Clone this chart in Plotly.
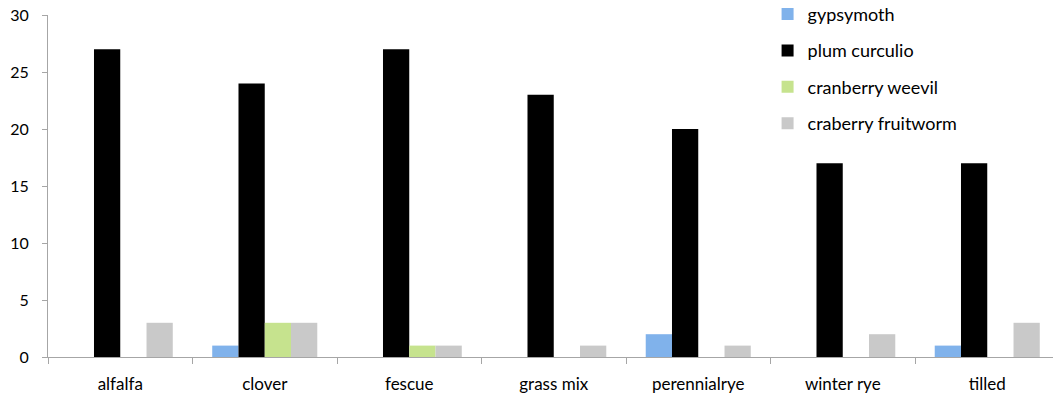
import plotly.graph_objects as go

categories = ["alfalfa", "clover", "fescue", "grass mix", "perennialrye", "winter rye", "tilled"]
gypsymoth = [0, 1, 0, 0, 2, 0, 1]
plum_curculio = [27, 24, 27, 23, 20, 17, 17]
cranberry_weevil = [0, 3, 1, 0, 0, 0, 0]
craberry_fruitworm = [3, 3, 1, 1, 1, 2, 3]
y_ticks = [0, 5, 10, 15, 20, 25, 30]

series = [
    ("gypsymoth", gypsymoth, "#80B2EB"),
    ("plum curculio", plum_curculio, "#000000"),
    ("cranberry weevil", cranberry_weevil, "#C6E38E"),
    ("craberry fruitworm", craberry_fruitworm, "#C9C9C9"),
]

fig = go.Figure()
for i, (name, vals, col) in enumerate(series):
    fig.add_trace(go.Bar(
        x=categories, y=vals, name=name, legendgroup=f"g{i}",
        marker=dict(color=col, line=dict(width=0)),
    ))

font_family = "Lato, 'Open Sans', sans-serif"
fig.update_layout(
    width=1053, height=402,
    margin=dict(l=48, r=0, t=15, b=45, autoexpand=False),
    paper_bgcolor="white", plot_bgcolor="white",
    barmode="group", bargap=0.273, bargroupgap=0,
    font=dict(family=font_family, size=14, color="#000000"),
    showlegend=True,
    legend=dict(
        x=0.716, y=1.056, xanchor="left", yanchor="top",
        traceorder="grouped", tracegroupgap=10,
        font=dict(size=18, color="#000000"),
        bgcolor="rgba(0,0,0,0)", itemwidth=30,
    ),
    xaxis=dict(
        type="category",
        range=[-0.5, 6.455],
        showgrid=False, zeroline=False,
        showline=True, linecolor="#A6A6A6", linewidth=1,
        ticks="outside", tickson="boundaries", ticklen=6, tickcolor="#A6A6A6",
        ticklabelstandoff=12,
        tickfont=dict(size=17, color="#000000"),
    ),
    yaxis=dict(
        range=[0, 30],
        tickvals=y_ticks,
        showgrid=False, zeroline=False,
        showline=True, linecolor="#A6A6A6", linewidth=1,
        ticks="outside", ticklen=5, tickcolor="#A6A6A6",
        ticklabelstandoff=10,
        tickfont=dict(size=16, color="#000000"),
    ),
)

fig.write_html("out.html")
